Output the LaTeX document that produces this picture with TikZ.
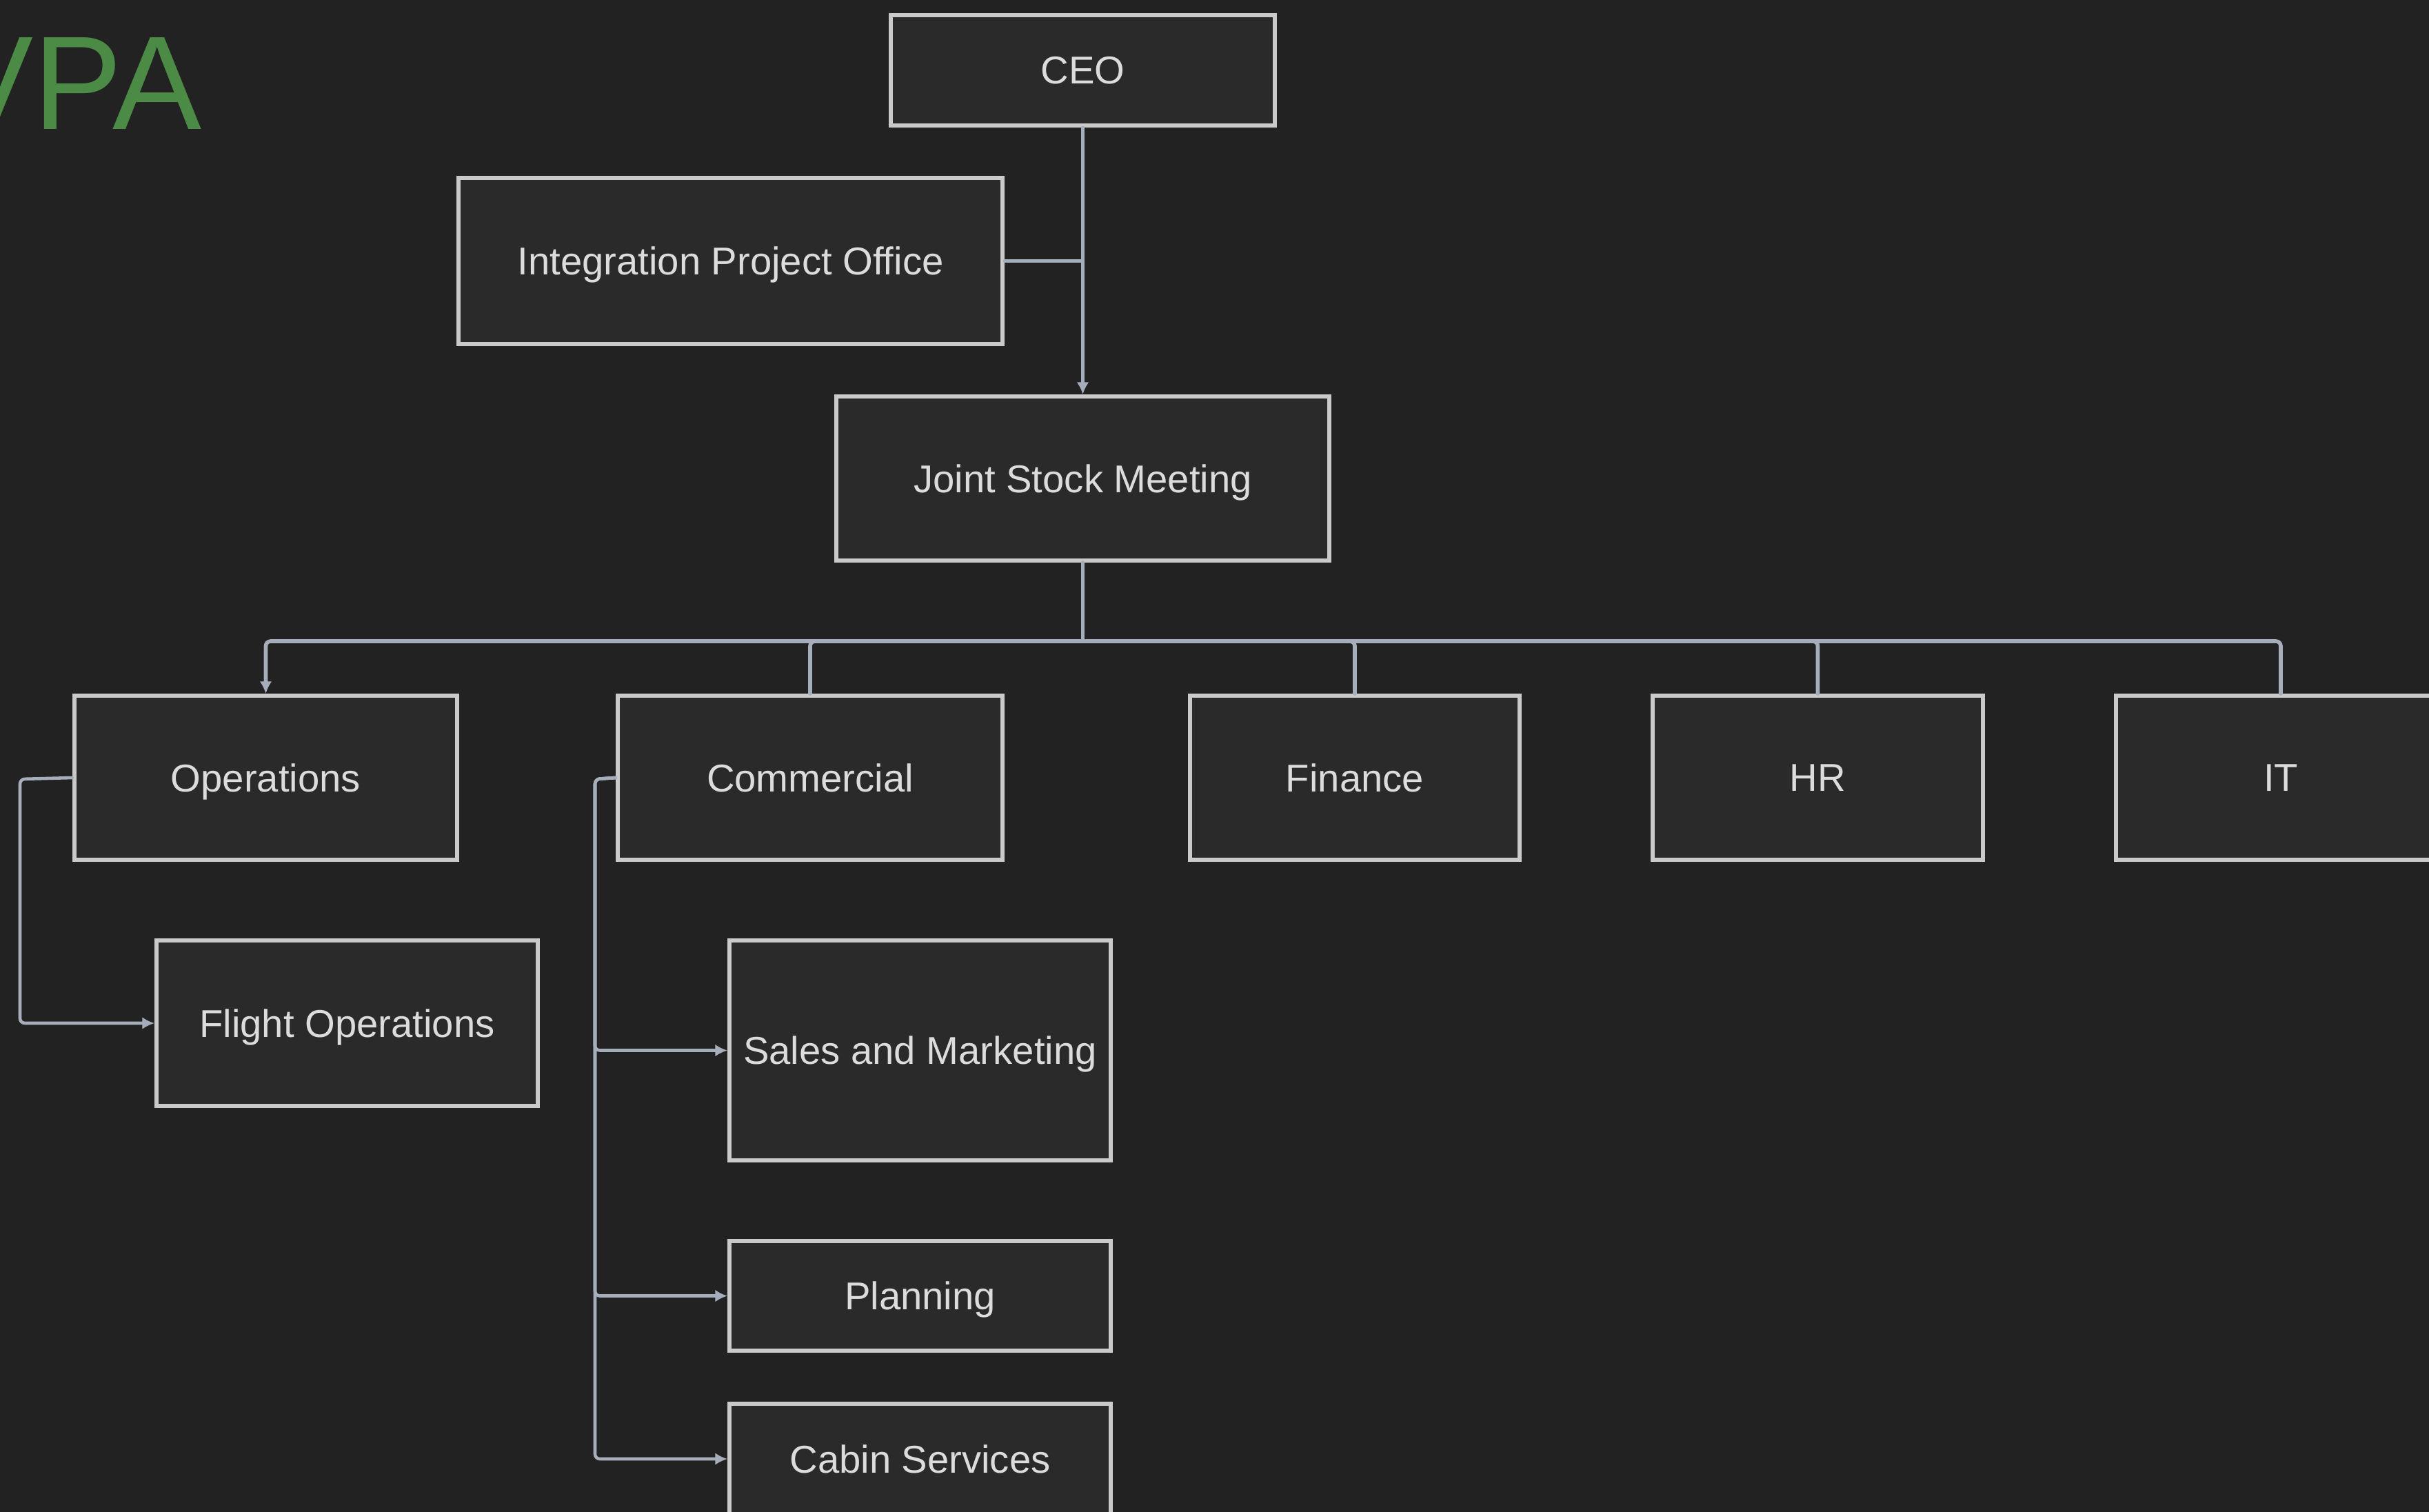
\documentclass[tikz,border=0pt]{standalone}
\usepackage{fontspec}
\setmainfont{Liberation Sans}
\usetikzlibrary{arrows.meta}
\definecolor{chartBg}{HTML}{222222}
\definecolor{boxFill}{HTML}{2A2A2A}
\definecolor{boxLine}{HTML}{CACACA}
\definecolor{boxText}{HTML}{DCDCDC}
\definecolor{linkGrey}{HTML}{A7AEBB}
\definecolor{titleGreen}{HTML}{4B8B45}
\tikzset{
  unit/.style={draw=boxLine, fill=boxFill, line width=1.7pt, text=boxText,
    font=\fontsize{16}{19}\selectfont, inner sep=0pt, text depth=0pt,
    minimum height=2.38cm},
  link/.style={draw=linkGrey, line width=1.3pt, rounded corners=2pt},
  tip/.style={-{Latex[length=5pt,width=5pt]}}
}

\begin{document}
\begin{tikzpicture}[y=-1cm, line cap=round]
  \fill[chartBg] (0,0) rectangle (35.23,21.93);
  \useasboundingbox (0,0) rectangle (35.23,21.93);

  \node[anchor=base west, inner sep=0pt, text=titleGreen, font=\fontsize{55}{60}\selectfont] (vpa) at (-0.81,1.87) {VPA};

  \node[unit, minimum width=5.57cm, minimum height=1.60cm] (ceo) at (15.705,1.02) {CEO};
  \node[unit, minimum width=7.89cm, minimum height=2.41cm] (ipo) at (10.595,3.785) {Integration Project Office};
  \node[unit, minimum width=7.15cm] (jsm) at (15.705,6.94) {Joint Stock Meeting};

  \foreach \name/\x/\w/\txt in {ops/3.855/5.55/Operations, com/11.75/5.58/Commercial,
      fin/19.65/4.78/Finance, hr/26.365/4.79/HR, it/33.08/4.78/IT}
    \node[unit, minimum width=\w cm] (\name) at (\x,11.28) {\txt};

  \node[unit, minimum width=5.53cm, minimum height=2.40cm] (flt) at (5.035,14.84) {Flight Operations};
  \node[unit, minimum width=5.53cm, minimum height=3.19cm] (sales) at (13.345,15.235) {Sales and Marketing};
  \node[unit, minimum width=5.53cm, minimum height=1.59cm] (plan) at (13.345,18.795) {Planning};
  \node[unit, minimum width=5.53cm, minimum height=1.60cm] (cabin) at (13.345,21.16) {Cabin Services};

  % top of the chart
  \draw[link, tip] (ceo) -- (jsm);
  \draw[link] (ipo.east) -- (ipo.east -| ceo.south);

  % bus to the departments
  \coordinate (bus) at (15.705,9.30);
  \draw[link, line width=1.6pt] (jsm) -- (bus);
  \draw[link, line width=1.6pt, tip] (bus) -| (ops.north);
  \foreach \n in {com, fin, hr, it}
    \draw[link, line width=1.6pt] (bus) -| (\n.north);

  \coordinate (opsbend) at (0.29,11.30);
  \draw[link, tip] (ops.west) -- (opsbend) |- (flt.west);

  \coordinate (combend) at (8.63,11.30);
  \foreach \n in {sales, plan, cabin}
    \draw[link, tip] (com.west) -- (combend) |- (\n.west);
\end{tikzpicture}
\end{document}
